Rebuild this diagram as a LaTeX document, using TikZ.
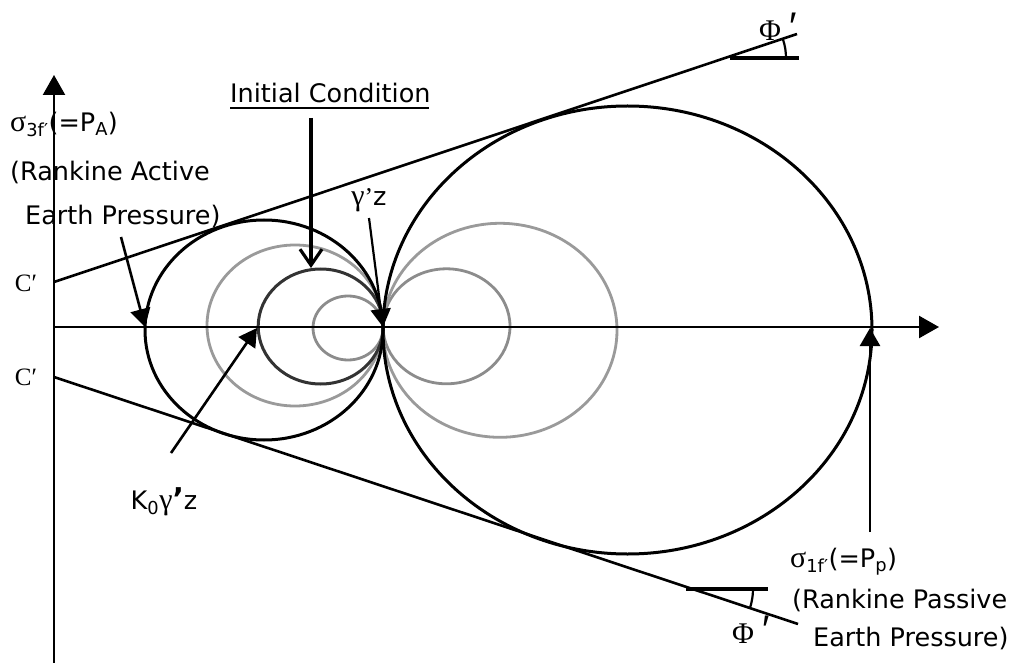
\documentclass[tikz,border=0pt]{standalone}
\usepackage{fontspec}
\setmainfont{DejaVu Sans}
\newfontfamily\serifgr{Liberation Serif}
\newfontfamily\sansprm{Liberation Sans}
\usetikzlibrary{arrows.meta}
\definecolor{lgray}{HTML}{9A9A9A}
\definecolor{mgray}{HTML}{8C8C8C}
\definecolor{dgray}{HTML}{333333}
\newcommand\grk[1]{{\fontsize{30}{30}\selectfont\serifgr #1}}
\newcommand\prm{{\fontsize{40}{40}\selectfont\sansprm ′}}
\tikzset{
  lbl/.style={inner sep=0pt, font=\fontsize{25.5}{30}\selectfont},
  slbl/.style={inner sep=0pt, font=\fontsize{25}{28}\selectfont\serifgr},
  axisline/.style={line width=2.4pt, -{Triangle[length=20pt,width=22pt]}},
  tangent/.style={line width=2.6pt},
  blackcirc/.style={line width=3pt, black},
  graycirc/.style={line width=2.8pt, lgray},
  ptr/.style={line width=2.6pt, -{Triangle[length=18pt,width=20pt]}},
  barb/.style={line width=3.2pt, -{Straight Barb[length=16pt,width=22pt]}},
  refline/.style={line width=4pt},
  anglearc/.style={line width=2.2pt},
}
\begin{document}
\begin{tikzpicture}[x=1pt,y=-1pt]
\path[use as bounding box] (0,0) rectangle (1012,663);

% key points
\coordinate (O) at (54,327);
\coordinate (axisend) at (939,327);
\coordinate (vbot) at (54,663);
\coordinate (vtop) at (54,75);
\coordinate (G) at (383,327);
\coordinate (PA) at (145,327);
\coordinate (K0) at (257,328);
\coordinate (PP) at (870,328);
\coordinate (IC) at (311,268);
\coordinate (Cu) at (54,282);
\coordinate (Cl) at (54,377);
\coordinate (Tu) at (797,34);
\coordinate (Tl) at (798,624);

% gray circles
\draw[graycirc] (295,325.5) ellipse [x radius=88pt, y radius=80.5pt];
\draw[graycirc, mgray] (348,328) ellipse [x radius=35pt, y radius=32pt];
\draw[graycirc, mgray] (446.5,326.3) ellipse [x radius=63.5pt, y radius=57.5pt];
\draw[graycirc] (500,330.3) ellipse [x radius=117pt, y radius=107pt];
% initial condition circle
\draw[line width=3pt, dgray] (320.7,326.5) ellipse [x radius=62.5pt, y radius=57.5pt];
% failure circles
\draw[blackcirc] (264,330) ellipse [x radius=119pt, y radius=110pt];
\draw[blackcirc] (627.5,330) ellipse [x radius=244.5pt, y radius=224pt];

% axes
\draw[axisline] (vbot) -- (vtop);
\draw[axisline] (O) -- (axisend);

% failure envelopes
\draw[tangent] (Cu) -- (Tu);
\draw[tangent] (Cl) -- (Tl);

% angle markers
\coordinate (hu1) at (730,58);
\coordinate (hu2) at (799,58);
\draw[refline] (hu1) -- (hu2);
\draw[anglearc] (786,58) arc[start angle=0, end angle=18.4, radius=59pt];
\coordinate (hl1) at (686,589);
\coordinate (hl2) at (768,589);
\draw[refline] (hl1) -- (hl2);
\draw[anglearc] (753,589) arc[start angle=0, end angle=-18.4, radius=61pt];

% labels
\node[lbl, anchor=west] (s3) at (10,124) {\grk{σ}\textsubscript{3f′}(=P\textsubscript{A})};
\node[lbl, anchor=west] (ra1) at (10,172) {(Rankine Active};
\node[lbl, anchor=west] (ra2) at (25,216) {Earth Pressure)};
\node[slbl] (cu) at (26,283) {C′};
\node[slbl] (cl) at (26,377) {C′};
\node[lbl, anchor=west] (ic) at (230,93) {Initial Condition};
\draw[line width=2.8pt] (230,108) -- (429,108);
\node[lbl] (gz) at (369,200) {\grk{γ}{\serifgr ’}z};
\node[lbl] (kz) at (164,502) {K\textsubscript{0}\grk{γ}{\fontsize{30}{30}\selectfont\bfseries ’}z};
\node[lbl, anchor=west] (s1) at (790,562) {\grk{σ}\textsubscript{1f′}(=P\textsubscript{p})};
\node[lbl, anchor=west] (rp1) at (792,600) {(Rankine Passive};
\node[lbl, anchor=west] (rp2) at (813,638) {Earth Pressure)};
\node[lbl] (phu) at (778,27) {\grk{Φ} \prm};
\node[lbl] (phl) at (751,630) {\grk{Φ} \prm};

% arrow tails
\coordinate (ict) at (311,118);
\coordinate (rat) at (121,237);
\coordinate (gzt) at (369,218);
\coordinate (kzt) at (171,453);
\coordinate (ppt) at (870,532);

% pointers
\draw[barb] (ict) -- (IC);
\draw[ptr] (rat) -- (PA);
\draw[ptr, line width=2.2pt] (gzt) -- (G);
\draw[ptr] (kzt) -- (K0);
\draw[ptr] (ppt) -- (PP);
\end{tikzpicture}
\end{document}
